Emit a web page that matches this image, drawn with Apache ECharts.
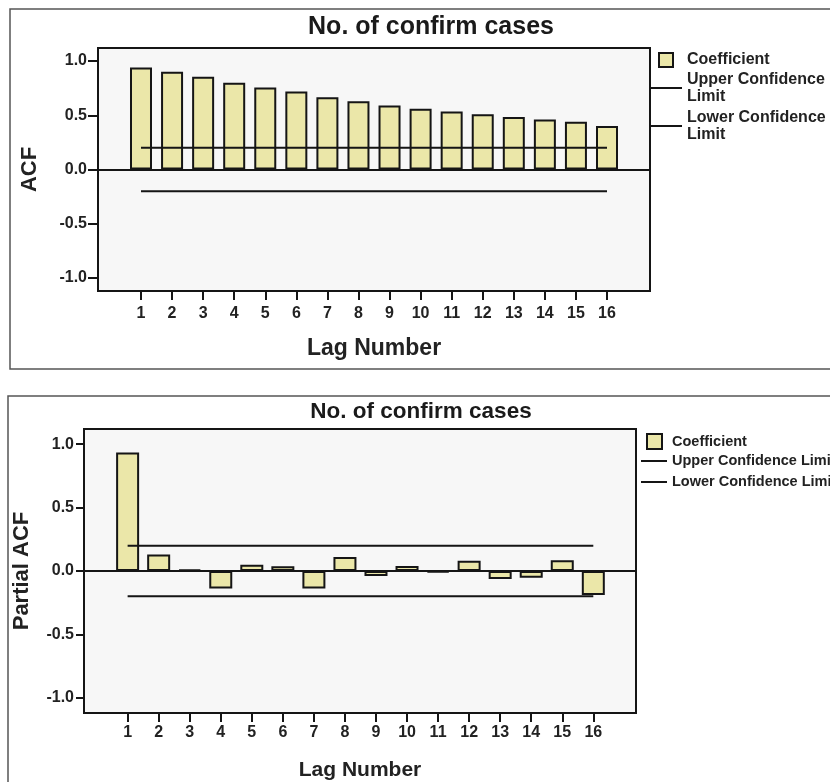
<!DOCTYPE html>
<html>
<head>
<meta charset="utf-8">
<script src="https://cdn.jsdelivr.net/npm/echarts@6/dist/echarts.min.js"></script>
<style>
  html, body { margin: 0; padding: 0; background: #ffffff; }
  #chart { width: 830px; height: 782px; }
</style>
</head>
<body>
<div id="chart"></div>
<script>
// ---- data ----
const lags = [1, 2, 3, 4, 5, 6, 7, 8, 9, 10, 11, 12, 13, 14, 15, 16];
const acfValues = [0.94, 0.90, 0.855, 0.80, 0.755, 0.72, 0.665, 0.63, 0.59, 0.56, 0.535, 0.51, 0.485, 0.46, 0.44, 0.40];
const acfUpper = [0.20, 0.20, 0.20, 0.20, 0.20, 0.20, 0.20, 0.20, 0.20, 0.20, 0.20, 0.20, 0.20, 0.20, 0.20, 0.20];
const acfLower = [-0.20, -0.20, -0.20, -0.20, -0.20, -0.20, -0.20, -0.20, -0.20, -0.20, -0.20, -0.20, -0.20, -0.20, -0.20, -0.20];
const pacfValues = [0.935, 0.13, 0.013, -0.138, 0.05, 0.037, -0.138, 0.11, -0.04, 0.04, -0.012, 0.08, -0.063, -0.053, 0.085, -0.19];
const pacfUpper = [0.20, 0.20, 0.20, 0.20, 0.20, 0.20, 0.20, 0.20, 0.20, 0.20, 0.20, 0.20, 0.20, 0.20, 0.20, 0.20];
const pacfLower = [-0.20, -0.20, -0.20, -0.20, -0.20, -0.20, -0.20, -0.20, -0.20, -0.20, -0.20, -0.20, -0.20, -0.20, -0.20, -0.20];
const yTicks = [-1, -0.5, 0, 0.5, 1];
const chartTitle = 'No. of confirm cases';
const xName = 'Lag Number';
const yNames = ['ACF', 'Partial ACF'];
const seriesNames = ['Coefficient', 'Upper Confidence Limit', 'Lower Confidence Limit'];

// ---- styling ----
const FONT = "'Liberation Sans', Arial, sans-serif";
const INK = '#151515';
const BAR_FILL = '#ebe7a9';
const PLOT_BG = '#f7f7f7';

const pairs = (vals) => lags.map((l, i) => [l, vals[i]]);

function xAxisFor(gridIndex, labelMargin, nameGap, nameSize, min, max) {
  return {
    type: 'value', gridIndex: gridIndex, min: min, max: max, position: 'bottom',
    axisLine: { show: true, onZero: false, lineStyle: { color: INK, width: 2 } },
    axisTick: { show: true, customValues: lags, length: 9, lineStyle: { color: INK, width: 2 } },
    axisLabel: { customValues: lags, margin: labelMargin, fontSize: 16, fontWeight: 'bold', color: '#222', fontFamily: FONT },
    splitLine: { show: false },
    name: xName, nameLocation: 'middle', nameGap: nameGap,
    nameTextStyle: { fontSize: nameSize, fontWeight: 'bold', color: '#222', fontFamily: FONT }
  };
}
function yAxisFor(gridIndex, name, labelMargin, tickLen, nameGap, nameSize) {
  return {
    type: 'value', gridIndex: gridIndex, min: -1.12, max: 1.12, position: 'left',
    axisLine: { show: true, onZero: false, lineStyle: { color: INK, width: 2 } },
    axisTick: { show: true, customValues: yTicks, length: tickLen, lineStyle: { color: INK, width: 2 } },
    axisLabel: { customValues: yTicks, margin: labelMargin, formatter: (v) => Number(v).toFixed(1),
                 fontSize: 16, fontWeight: 'bold', color: '#222', fontFamily: FONT },
    splitLine: { show: false },
    name: name, nameLocation: 'middle', nameGap: nameGap,
    nameTextStyle: { fontSize: nameSize, fontWeight: 'bold', color: '#222', fontFamily: FONT }
  };
}
function barSeries(idx, vals, width) {
  return {
    name: seriesNames[0], type: 'bar', xAxisIndex: idx, yAxisIndex: idx,
    data: pairs(vals), barWidth: width,
    itemStyle: { color: BAR_FILL, borderColor: INK, borderWidth: 2 },
    emphasis: { disabled: true },
    markLine: {
      silent: true, symbol: 'none', label: { show: false },
      lineStyle: { color: INK, width: 2, type: 'solid' },
      data: [{ yAxis: 0 }]
    }
  };
}
function limitSeries(idx, name, vals) {
  return {
    name: name, type: 'line', xAxisIndex: idx, yAxisIndex: idx,
    data: pairs(vals), symbol: 'none', color: INK,
    lineStyle: { color: INK, width: 2 },
    emphasis: { disabled: true }
  };
}

const chart = echarts.init(document.getElementById('chart'), null, { renderer: 'canvas' });
chart.setOption({
  backgroundColor: '#ffffff',
  animation: false,
  textStyle: { fontFamily: FONT },
  graphic: [
    { type: 'rect', shape: { x: 10, y: 9, width: 840, height: 360 }, style: { fill: 'none', stroke: '#555', lineWidth: 1.5 }, silent: true, z: -10 },
    { type: 'rect', shape: { x: 8, y: 396, width: 840, height: 420 }, style: { fill: 'none', stroke: '#555', lineWidth: 1.5 }, silent: true, z: -10 }
  ],
  title: [
    { text: chartTitle, left: 431, top: 15, textAlign: 'center', padding: 0,
      textStyle: { fontSize: 25, fontWeight: 'bold', color: '#1a1a1a', fontFamily: FONT } },
    { text: chartTitle, left: 421, top: 400, textAlign: 'center', padding: 0,
      textStyle: { fontSize: 22.5, fontWeight: 'bold', color: '#1a1a1a', fontFamily: FONT } }
  ],
  legend: [
    { data: [seriesNames[0]], left: 658, top: 52, orient: 'vertical', selectedMode: false, padding: 0,
      icon: 'rect', itemWidth: 14, itemHeight: 14,
      itemStyle: { color: BAR_FILL, borderColor: INK, borderWidth: 2 },
      textStyle: { fontSize: 16, fontWeight: 'bold', color: '#222', lineHeight: 16, padding: [0, 0, 0, 9], fontFamily: FONT } },
    { data: [seriesNames[1], seriesNames[2]], left: 650, top: 71, orient: 'vertical', selectedMode: false, padding: 0,
      icon: 'rect', itemWidth: 32, itemHeight: 2, itemGap: 4,
      itemStyle: { color: INK },
      formatter: (n) => n.replace(' Limit', '\nLimit'),
      textStyle: { fontSize: 16, fontWeight: 'bold', color: '#222', lineHeight: 17, fontFamily: FONT } },
    { data: [seriesNames[0]], left: 646, top: 433, orient: 'vertical', selectedMode: false, padding: 0,
      icon: 'rect', itemWidth: 15, itemHeight: 15,
      itemStyle: { color: BAR_FILL, borderColor: INK, borderWidth: 2 },
      textStyle: { fontSize: 14.5, fontWeight: 'bold', color: '#222', lineHeight: 16, padding: [0, 0, 0, 5], fontFamily: FONT } },
    { data: [seriesNames[1], seriesNames[2]], left: 641, top: 453, orient: 'vertical', selectedMode: false, padding: 0,
      icon: 'rect', itemWidth: 26, itemHeight: 2, itemGap: 5,
      itemStyle: { color: INK },
      textStyle: { fontSize: 14.5, fontWeight: 'bold', color: '#222', lineHeight: 16, fontFamily: FONT } }
  ],
  grid: [
    { left: 98, top: 48, width: 552, height: 243, show: true, backgroundColor: PLOT_BG, borderColor: INK, borderWidth: 2 },
    { left: 84, top: 429, width: 552, height: 284, show: true, backgroundColor: PLOT_BG, borderColor: INK, borderWidth: 2 }
  ],
  xAxis: [
    xAxisFor(0, 15, 46, 23, -0.384, 17.384),
    xAxisFor(1, 12, 47, 21, -0.405, 17.375)
  ],
  yAxis: [
    yAxisFor(0, yNames[0], 11, 10, 57, 22),
    yAxisFor(1, yNames[1], 10, 8, 51, 22)
  ],
  series: [
    barSeries(0, acfValues, 22),
    limitSeries(0, seriesNames[1], acfUpper),
    limitSeries(0, seriesNames[2], acfLower),
    barSeries(1, pacfValues, 23),
    limitSeries(1, seriesNames[1], pacfUpper),
    limitSeries(1, seriesNames[2], pacfLower)
  ]
});
</script>
</body>
</html>
